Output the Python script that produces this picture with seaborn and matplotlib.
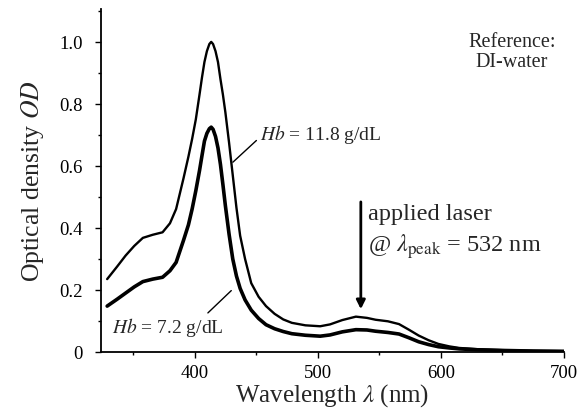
import matplotlib
matplotlib.use("Agg")
import matplotlib.pyplot as plt
import seaborn as sns
import pandas as pd
from matplotlib.ticker import MultipleLocator, FixedLocator, FixedFormatter

# ---- data ----
wavelength = [329, 337, 344, 351, 358, 366, 374, 380, 385, 391, 395, 398, 401, 404,
              406, 408, 410, 412, 413.5, 415, 417, 419, 421, 423, 425, 428, 431, 434,
              437, 441, 446, 452, 458, 465, 472, 479, 490, 502, 510, 520, 531, 540,
              547, 557, 566, 574, 582, 590, 598, 607, 615, 630, 650, 675, 700]
od_hb_11_8 = [0.235, 0.275, 0.311, 0.342, 0.368, 0.378, 0.386, 0.415, 0.461, 0.56,
              0.63, 0.687, 0.75, 0.83, 0.885, 0.935, 0.97, 0.993, 1.0, 0.993, 0.97,
              0.935, 0.88, 0.83, 0.773, 0.675, 0.57, 0.465, 0.375, 0.30, 0.222,
              0.178, 0.148, 0.123, 0.105, 0.094, 0.086, 0.083, 0.089, 0.103, 0.114,
              0.110, 0.104, 0.099, 0.090, 0.072, 0.053, 0.038, 0.026, 0.018, 0.013,
              0.009, 0.006, 0.004, 0.003]
od_hb_7_2 = [0.148, 0.17, 0.19, 0.21, 0.227, 0.235, 0.241, 0.262, 0.289, 0.36,
             0.41, 0.461, 0.52, 0.585, 0.633, 0.68, 0.705, 0.72, 0.725, 0.718, 0.695,
             0.658, 0.605, 0.54, 0.472, 0.38, 0.30, 0.245, 0.205, 0.168, 0.135,
             0.108, 0.088, 0.075, 0.066, 0.059, 0.054, 0.051, 0.055, 0.065, 0.072,
             0.071, 0.067, 0.063, 0.058, 0.046, 0.033, 0.024, 0.017, 0.013, 0.010,
             0.007, 0.005, 0.003, 0.002]
x_ticks = [400, 500, 600, 700]
y_ticks = [0, 0.2, 0.4, 0.6, 0.8, 1.0]
y_tick_labels = ["0", "0.2", "0.4", "0.6", "0.8", "1.0"]

sns.set_style("ticks")
plt.rcParams["font.family"] = ["Liberation Serif", "DejaVu Serif"]
plt.rcParams["mathtext.fontset"] = "stix"

fig = plt.figure(figsize=(5.81, 4.14), dpi=100)
ax = fig.add_axes([101 / 581, 61 / 414, 463 / 581, 343 / 414])

df_hi = pd.DataFrame({"wl": wavelength, "od": od_hb_11_8})
df_lo = pd.DataFrame({"wl": wavelength, "od": od_hb_7_2})
sns.lineplot(data=df_hi, x="wl", y="od", color="black", lw=1.7, ax=ax)
sns.lineplot(data=df_lo, x="wl", y="od", color="black", lw=2.6, ax=ax)

ax.set_xlim(324, 700)
ax.set_ylim(0, 1.106)
sns.despine(ax=ax)
for s in ["left", "bottom"]:
    ax.spines[s].set_linewidth(1.3)
    ax.spines[s].set_color("black")

ax.xaxis.set_major_locator(FixedLocator(x_ticks))
ax.xaxis.set_minor_locator(MultipleLocator(50))
ax.yaxis.set_major_locator(FixedLocator(y_ticks))
ax.yaxis.set_major_formatter(FixedFormatter(y_tick_labels))
ax.yaxis.set_minor_locator(MultipleLocator(0.1))
ax.tick_params(which="major", direction="out", length=4, width=1, labelsize=13.5,
               colors="black")
ax.tick_params(axis="y", which="major", pad=9)
ax.tick_params(axis="x", which="major", pad=5)
ax.tick_params(which="minor", direction="out", length=2.5, width=1, colors="black")

ax.set_xlabel(r"Wavelength $\lambda$ (nm)", fontsize=18, labelpad=0)
ax.set_ylabel(r"Optical density $OD$", fontsize=18.5, labelpad=10)

# annotations
ax.text(452.8, 0.703, r"$Hb$ = 11.8 g/dL", fontsize=14, ha="left", va="center")
ax.plot([431.1, 450.2], [0.612, 0.682], color="black", lw=1)
ax.text(333.3, 0.081, r"$Hb$ = 7.2 g/dL", fontsize=14, ha="left", va="center")
ax.plot([410.8, 429.8], [0.126, 0.198], color="black", lw=1)

ax.annotate("", xy=(535, 0.138), xytext=(535, 0.484),
            arrowprops=dict(arrowstyle="-|>", color="black", lw=2,
                            mutation_scale=13, shrinkA=0, shrinkB=0))
ax.text(540.7, 0.445, "applied laser", fontsize=17.5, ha="left", va="center")
ax.text(540.7, 0.342, r"@ $\lambda_{\mathrm{peak}}$ = 532 nm", fontsize=17.5,
        ha="left", va="center")
ax.text(657.7, 0.968, "Reference:\nDI-water", fontsize=14.5, ha="center",
        va="center", linespacing=1.1)

fig.savefig("out.png", dpi=100)
